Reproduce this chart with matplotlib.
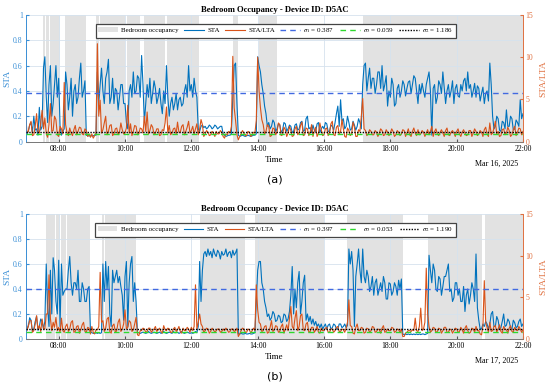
import numpy as np
import matplotlib.pyplot as plt
from matplotlib.patches import Patch
from matplotlib.lines import Line2D
from matplotlib.transforms import blended_transform_factory

plt.rcParams['font.family'] = ['Liberation Serif', 'DejaVu Serif']
plt.rcParams['mathtext.fontset'] = 'stix'

# samples every 2.5 minutes starting at 07:00 (hours), one row per hour
t_start = 7.0
step_h = 2.5 / 60

# ---- Mar 16 ----
sta_a = [
    0.12, 0.06, 0.08, 0.13, 0.15, 0.07, 0.20, 0.09, 0.10, 0.05, 0.27, 0.09, 0.12, 0.58, 0.67, 0.35, 0.15, 0.45, 0.60, 0.20, 0.30, 0.45, 0.60, 0.35,
    0.50, 0.12, 0.05, 0.08, 0.10, 0.55, 0.45, 0.25, 0.35, 0.50, 0.20, 0.40, 0.45, 0.30, 0.35, 0.50, 0.62, 0.35, 0.40, 0.48, 0.05, 0.045, 0.045, 0.045,
    0.045, 0.045, 0.05, 0.05, 0.55, 0.30, 0.45, 0.58, 0.40, 0.30, 0.50, 0.55, 0.65, 0.30, 0.35, 0.50, 0.30, 0.42, 0.40, 0.25, 0.35, 0.45, 0.45, 0.30,
    0.30, 0.15, 0.10, 0.40, 0.45, 0.35, 0.55, 0.38, 0.40, 0.52, 0.50, 0.35, 0.68, 0.45, 0.15, 0.30, 0.45, 0.35, 0.50, 0.30, 0.38, 0.48, 0.42, 0.30,
    0.35, 0.42, 0.30, 0.22, 0.40, 0.30, 0.60, 0.35, 0.20, 0.30, 0.35, 0.25, 0.30, 0.38, 0.25, 0.33, 0.35, 0.28, 0.30, 0.40, 0.45, 0.35, 0.60, 0.40,
    0.45, 0.35, 0.50, 0.40, 0.35, 0.10, 0.08, 0.12, 0.13, 0.11, 0.12, 0.10, 0.11, 0.13, 0.12, 0.10, 0.11, 0.13, 0.12, 0.10, 0.11, 0.12, 0.12, 0.06,
    0.05, 0.04, 0.045, 0.05, 0.05, 0.06, 0.35, 0.60, 0.62, 0.30, 0.05, 0.04, 0.045, 0.05, 0.045, 0.04, 0.045, 0.05, 0.045, 0.04, 0.045, 0.05, 0.05, 0.06,
    0.67, 0.60, 0.55, 0.45, 0.38, 0.28, 0.22, 0.12, 0.15, 0.10, 0.12, 0.17, 0.15, 0.08, 0.10, 0.14, 0.13, 0.07, 0.09, 0.15, 0.14, 0.08, 0.10, 0.13,
    0.12, 0.07, 0.08, 0.13, 0.14, 0.09, 0.10, 0.15, 0.16, 0.08, 0.09, 0.18, 0.20, 0.10, 0.11, 0.07, 0.13, 0.09, 0.08, 0.14, 0.15, 0.07, 0.10, 0.12,
    0.10, 0.15, 0.14, 0.08, 0.08, 0.13, 0.12, 0.09, 0.15, 0.22, 0.28, 0.12, 0.33, 0.16, 0.18, 0.10, 0.12, 0.20, 0.15, 0.09, 0.10, 0.16, 0.13, 0.09,
    0.12, 0.18, 0.15, 0.10, 0.45, 0.60, 0.62, 0.40, 0.50, 0.58, 0.42, 0.50, 0.50, 0.38, 0.45, 0.55, 0.55, 0.42, 0.60, 0.40, 0.45, 0.52, 0.28, 0.40,
    0.35, 0.50, 0.45, 0.28, 0.30, 0.42, 0.45, 0.35, 0.40, 0.48, 0.45, 0.36, 0.42, 0.47, 0.48, 0.38, 0.45, 0.52, 0.50, 0.40, 0.30, 0.45, 0.38, 0.46,
    0.40, 0.35, 0.45, 0.50, 0.55, 0.40, 0.05, 0.42, 0.45, 0.30, 0.35, 0.48, 0.45, 0.38, 0.55, 0.42, 0.30, 0.40, 0.45, 0.35, 0.40, 0.48, 0.30, 0.42,
    0.45, 0.36, 0.35, 0.45, 0.40, 0.48, 0.50, 0.40, 0.55, 0.42, 0.45, 0.35, 0.40, 0.46, 0.35, 0.44, 0.42, 0.32, 0.38, 0.43, 0.30, 0.38, 0.40, 0.32,
    0.62, 0.45, 0.20, 0.10, 0.12, 0.20, 0.18, 0.09, 0.08, 0.16, 0.15, 0.10, 0.25, 0.12, 0.12, 0.20, 0.18, 0.09, 0.10, 0.17, 0.15, 0.12, 0.33, 0.18,
    0.22,
]
ratio_a = [
    3.9, 1.0, 1.2, 2.0, 2.4, 0.7, 0.8, 1.8, 3.3, 1.1, 1.0, 2.2, 3.7, 1.5, 2.8, 0.9, 0.5, 2.0, 4.5, 1.2, 1.3, 3.0, 2.6, 0.8,
    0.6, 1.8, 1.5, 0.9, 7.0, 2.0, 1.1, 0.7, 1.6, 1.0, 0.7, 1.4, 1.9, 0.8, 1.2, 1.7, 1.6, 0.9, 0.8, 1.5, 1.3, 0.6, 0.9, 0.5,
    0.9, 0.4, 0.7, 1.0, 11.6, 3.0, 4.9, 1.0, 1.4, 2.2, 3.0, 0.8, 1.2, 1.9, 2.0, 0.7, 0.9, 1.5, 1.6, 0.8, 1.1, 2.2, 1.4, 0.9,
    1.0, 1.6, 4.3, 1.0, 2.1, 0.7, 1.2, 1.9, 1.8, 0.8, 0.9, 1.6, 1.5, 1.0, 3.0, 1.2, 3.5, 0.9, 1.3, 2.0, 1.7, 0.8, 1.0, 1.5,
    1.5, 0.7, 0.8, 1.4, 1.3, 2.2, 4.1, 1.0, 1.9, 0.8, 1.0, 1.5, 1.6, 0.9, 2.3, 1.1, 1.1, 1.8, 2.0, 0.8, 1.2, 1.7, 2.4, 1.0,
    1.3, 1.8, 0.9, 1.5, 2.1, 0.8, 1.5, 2.6, 2.0, 0.6, 0.9, 1.3, 1.1, 0.7, 0.8, 1.2, 1.0, 0.6, 1.2, 0.9, 0.9, 1.3, 1.1, 0.6,
    0.4, 0.9, 0.8, 1.2, 1.0, 1.8, 10.1, 4.0, 2.5, 0.8, 0.2, 0.6, 0.9, 1.3, 1.0, 0.7, 0.7, 1.2, 1.1, 0.6, 0.8, 1.1, 1.0, 2.5,
    10.0, 6.0, 4.0, 2.6, 2.0, 0.9, 1.2, 2.0, 1.8, 0.6, 0.7, 1.6, 1.5, 0.8, 1.1, 2.2, 2.0, 0.7, 0.8, 1.7, 1.4, 0.6, 1.0, 1.8,
    1.3, 0.6, 0.7, 1.5, 1.8, 0.8, 1.0, 1.9, 2.3, 0.7, 0.8, 1.6, 1.5, 0.7, 1.1, 2.0, 0.6, 1.2, 1.7, 0.6, 1.0, 2.2, 1.4, 0.7,
    0.8, 1.5, 1.6, 0.7, 1.1, 2.1, 2.4, 0.8, 0.7, 1.7, 1.9, 0.9, 1.2, 2.6, 1.5, 0.6, 0.5, 1.6, 1.3, 0.7, 0.9, 2.3, 1.7, 0.6,
    0.6, 1.4, 1.2, 3.0, 5.1, 1.5, 1.3, 0.7, 0.9, 1.4, 1.2, 0.8, 0.8, 1.3, 1.1, 0.6, 1.0, 1.5, 1.3, 0.7, 0.8, 1.4, 1.1, 0.7,
    1.0, 1.5, 1.2, 0.6, 0.8, 1.3, 1.1, 0.7, 0.9, 1.4, 1.3, 0.6, 1.0, 1.5, 0.8, 0.6, 1.2, 1.6, 1.0, 0.7, 1.4, 0.8, 0.9, 1.3,
    1.1, 0.6, 1.0, 1.4, 0.8, 1.2, 1.8, 0.6, 1.2, 1.5, 0.9, 0.7, 1.1, 1.4, 1.0, 0.6, 1.3, 1.6, 0.8, 0.7, 1.1, 1.3, 1.0, 0.6,
    1.2, 1.5, 0.9, 0.6, 1.1, 1.4, 1.0, 0.7, 0.8, 1.3, 1.3, 0.6, 1.0, 1.5, 1.2, 0.7, 0.9, 1.3, 1.1, 0.6, 1.4, 1.7, 0.9, 0.6,
    2.2, 0.8, 1.0, 1.6, 2.4, 0.9, 1.2, 0.6, 0.7, 1.4, 1.5, 0.8, 1.0, 1.7, 1.3, 0.6, 0.8, 1.4, 1.8, 0.7, 1.1, 1.6, 1.5, 0.8,
    1.2,
]
occ_a = [(7.52, 7.59), (7.62, 7.71), (7.74, 8.04), (8.19, 8.83), (9.13, 9.22),
         (9.25, 10.01), (10.07, 10.46), (10.58, 11.21), (11.27, 12.24),
         (13.26, 13.40), (14.03, 14.57), (17.17, 22.0)]
sig_a = [0.387, 0.059, 1.186]

# ---- Mar 17 ----
sta_b = [
    0.24, 0.08, 0.10, 0.17, 0.15, 0.06, 0.08, 0.14, 0.18, 0.07, 0.10, 0.16, 0.14, 0.08, 0.14, 0.60, 0.25, 0.10, 0.55, 0.20, 0.65, 0.55, 0.30, 0.20,
    0.63, 0.10, 0.60, 0.35, 0.38, 0.40, 0.40, 0.55, 0.66, 0.45, 0.35, 0.45, 0.45, 0.40, 0.55, 0.30, 0.30, 0.45, 0.40, 0.30, 0.30, 0.40, 0.42, 0.06,
    0.05, 0.045, 0.045, 0.05, 0.045, 0.05, 0.045, 0.05, 0.60, 0.30, 0.62, 0.40, 0.58, 0.20, 0.10, 0.55, 0.45, 0.50, 0.55, 0.45, 0.50, 0.42, 0.35, 0.15,
    0.50, 0.62, 0.10, 0.45, 0.60, 0.66, 0.30, 0.45, 0.30, 0.05, 0.05, 0.045, 0.05, 0.055, 0.05, 0.045, 0.05, 0.06, 0.05, 0.045, 0.05, 0.055, 0.05, 0.045,
    0.05, 0.055, 0.045, 0.05, 0.06, 0.05, 0.045, 0.05, 0.055, 0.05, 0.045, 0.06, 0.05, 0.05, 0.055, 0.045, 0.05, 0.06, 0.05, 0.045, 0.05, 0.055, 0.05, 0.045,
    0.05, 0.045, 0.05, 0.06, 0.05, 0.10, 0.62, 0.30, 0.55, 0.68, 0.70, 0.66, 0.72, 0.67, 0.70, 0.65, 0.72, 0.68, 0.66, 0.71, 0.69, 0.64, 0.70, 0.67,
    0.68, 0.72, 0.66, 0.69, 0.70, 0.65, 0.71, 0.67, 0.69, 0.72, 0.04, 0.04, 0.045, 0.04, 0.04, 0.045, 0.04, 0.04, 0.045, 0.04, 0.04, 0.045, 0.05, 0.30,
    0.55, 0.62, 0.62, 0.45, 0.40, 0.30, 0.25, 0.18, 0.20, 0.15, 0.17, 0.22, 0.20, 0.14, 0.15, 0.19, 0.18, 0.13, 0.14, 0.20, 0.19, 0.14, 0.16, 0.22,
    0.35, 0.58, 0.20, 0.40, 0.25, 0.45, 0.54, 0.20, 0.30, 0.45, 0.51, 0.15, 0.20, 0.14, 0.18, 0.12, 0.16, 0.11, 0.14, 0.10, 0.12, 0.09, 0.12, 0.08,
    0.10, 0.12, 0.08, 0.11, 0.12, 0.08, 0.09, 0.12, 0.11, 0.08, 0.08, 0.12, 0.12, 0.09, 0.10, 0.12, 0.09, 0.11, 0.72, 0.60, 0.70, 0.55, 0.10, 0.50,
    0.60, 0.72, 0.55, 0.45, 0.72, 0.50, 0.45, 0.55, 0.50, 0.38, 0.42, 0.50, 0.35, 0.45, 0.48, 0.35, 0.40, 0.45, 0.38, 0.50, 0.45, 0.32, 0.32, 0.45,
    0.44, 0.35, 0.38, 0.45, 0.42, 0.35, 0.47, 0.40, 0.48, 0.04, 0.035, 0.04, 0.035, 0.04, 0.035, 0.04, 0.035, 0.04, 0.035, 0.04, 0.035, 0.04, 0.035, 0.04,
    0.04, 0.035, 0.04, 0.045, 0.67, 0.55, 0.45, 0.60, 0.55, 0.40, 0.38, 0.50, 0.48, 0.35, 0.42, 0.50, 0.50, 0.55, 0.60, 0.38, 0.40, 0.30, 0.33, 0.45,
    0.45, 0.35, 0.40, 0.30, 0.30, 0.42, 0.22, 0.35, 0.40, 0.28, 0.35, 0.45, 0.40, 0.30, 0.68, 0.25, 0.15, 0.08, 0.08, 0.12, 0.10, 0.14, 0.12, 0.08,
    0.12, 0.20, 0.22, 0.10, 0.10, 0.18, 0.15, 0.08, 0.09, 0.14, 0.20, 0.10, 0.11, 0.16, 0.14, 0.09, 0.08, 0.15, 0.13, 0.09, 0.10, 0.14, 0.16, 0.10,
    0.12,
]
ratio_b = [
    3.1, 1.0, 1.5, 2.2, 2.2, 0.8, 1.0, 1.8, 2.8, 1.2, 1.6, 0.9, 2.4, 1.3, 1.2, 3.0, 3.0, 7.7, 2.5, 1.0, 2.0, 1.4, 2.6, 1.0,
    1.4, 0.8, 2.5, 1.0, 0.8, 1.5, 1.8, 0.9, 1.2, 2.0, 2.2, 0.8, 0.9, 1.5, 1.6, 0.7, 1.1, 1.7, 2.0, 0.9, 0.8, 1.4, 1.3, 0.6,
    1.5, 0.8, 0.6, 1.1, 1.1, 1.5, 8.0, 2.0, 2.2, 0.9, 1.3, 2.4, 2.6, 0.9, 0.7, 1.6, 1.8, 0.8, 1.0, 2.0, 2.4, 0.9, 1.2, 1.8,
    3.5, 1.2, 1.4, 2.2, 2.0, 0.9, 1.1, 1.8, 2.6, 0.5, 0.4, 1.0, 1.0, 1.3, 1.2, 0.8, 0.9, 1.3, 1.3, 0.8, 1.0, 1.2, 1.5, 0.9,
    1.1, 1.3, 0.9, 0.7, 1.6, 1.1, 1.0, 1.3, 1.2, 0.8, 0.8, 1.2, 1.4, 0.9, 1.1, 1.5, 0.9, 0.7, 1.3, 1.0, 1.0, 1.4, 1.2, 0.8,
    1.4, 1.0, 1.5, 6.5, 1.2, 2.0, 3.0, 1.8, 1.5, 0.8, 1.0, 1.3, 1.2, 0.7, 0.9, 1.3, 1.1, 0.8, 1.0, 1.2, 1.2, 0.8, 0.9, 1.2,
    1.0, 1.3, 1.1, 0.8, 0.9, 1.2, 1.2, 0.9, 1.0, 1.3, 0.3, 0.6, 1.0, 1.3, 1.2, 0.8, 0.8, 1.2, 1.1, 0.7, 1.0, 1.3, 1.0, 6.5,
    3.5, 2.0, 1.8, 0.9, 1.0, 1.5, 1.6, 0.7, 0.8, 1.4, 2.2, 0.9, 1.1, 1.6, 1.5, 0.8, 0.9, 1.5, 1.8, 0.7, 1.2, 1.7, 1.0, 2.5,
    3.9, 1.5, 1.2, 2.5, 3.4, 1.0, 1.5, 2.8, 3.0, 1.1, 1.0, 1.8, 2.0, 0.8, 0.9, 1.4, 1.4, 0.8, 1.1, 1.5, 0.8, 0.7, 1.3, 1.0,
    1.0, 1.3, 1.4, 0.8, 0.8, 1.2, 1.2, 0.8, 1.0, 1.4, 1.5, 0.9, 0.9, 1.2, 1.1, 0.8, 1.3, 2.0, 4.7, 1.6, 1.5, 0.7, 0.6, 1.4,
    1.8, 1.0, 1.0, 1.4, 1.3, 0.7, 0.8, 1.3, 1.2, 0.8, 1.0, 1.5, 1.4, 0.8, 0.9, 1.2, 1.1, 0.7, 1.3, 1.6, 0.8, 0.9, 1.2, 1.0,
    1.0, 1.4, 1.3, 0.8, 0.9, 1.2, 1.1, 0.8, 1.2, 0.3, 0.3, 0.7, 0.8, 1.0, 1.0, 0.9, 1.1, 1.0, 2.5, 1.0, 0.9, 1.5, 3.7, 1.0,
    1.2, 2.0, 8.5, 3.0, 1.5, 0.8, 1.0, 1.4, 1.3, 0.8, 0.9, 1.3, 1.2, 0.7, 1.0, 1.4, 1.4, 0.8, 0.8, 1.2, 1.1, 0.7, 1.0, 1.3,
    1.2, 0.8, 0.9, 1.4, 1.1, 0.7, 1.3, 1.6, 1.0, 0.7, 0.8, 1.3, 1.2, 0.8, 1.5, 1.0, 1.0, 0.6, 0.5, 1.5, 7.0, 2.0, 1.4, 0.8,
    2.0, 0.9, 1.0, 1.5, 1.6, 0.8, 1.2, 1.7, 0.9, 0.7, 1.5, 1.2, 1.1, 0.7, 1.3, 1.6, 0.9, 0.8, 1.4, 1.1, 1.0, 1.5, 1.2, 0.8,
    1.1,
]
occ_b = [(7.62, 7.88), (7.91, 8.03), (8.06, 8.21), (8.26, 8.94), (9.30, 9.36),
         (9.39, 10.34), (12.25, 13.61), (13.91, 16.0), (16.68, 18.37),
         (19.15, 20.76), (20.84, 22.0)]
sig_b = [0.397, 0.053, 1.190]

xticks = [8, 10, 12, 14, 16, 18, 20, 22]
xticklabels = ['08:00', '10:00', '12:00', '14:00', '16:00', '18:00', '20:00', '22:00']

blue = '#0072BD'
orange = '#D95319'
blue_lbl = '#3a8fd6'
orange_lbl = '#e0703f'
shade = '#e2e2e2'


def panel(rect, sta, ratio, occ, sig, date_txt, letter, letter_y):
    ax = fig.add_axes(rect)
    ax2 = ax.twinx()
    t = t_start + np.arange(len(sta)) * step_h
    t2 = t_start + np.arange(len(ratio)) * step_h

    for s, e in occ:
        ax.axvspan(s, e, color=shade, lw=0, zorder=0.5)
    ax.plot(t, sta, color=blue, lw=0.8, zorder=2)
    ax2.plot(t2, ratio, color=orange, lw=0.8, zorder=2)

    # sigma lines drawn on top of both series
    tr = blended_transform_factory(ax2.transAxes, ax.transData)
    ax2.plot([0, 1], [sig[0], sig[0]], transform=tr, color='#4169e1', lw=1.0,
             ls=(0, (4, 3)), zorder=3)
    ax2.plot([0, 1], [sig[1], sig[1]], transform=tr, color='#2ed82e', lw=1.0,
             ls=(0, (4, 3)), zorder=3)
    ax2.axhline(sig[2], color='black', lw=1.0, ls=(0, (1, 1)), zorder=3)

    ax.set_xlim(7, 22)
    ax.set_ylim(0, 1)
    ax2.set_ylim(0, 15)
    ax.set_xticks(xticks)
    ax.set_xticklabels(xticklabels)
    ax.set_yticks([0, 0.2, 0.4, 0.6, 0.8, 1])
    ax.set_yticklabels(['0', '0.2', '0.4', '0.6', '0.8', '1'])
    ax2.set_yticks([0, 5, 10, 15])
    ax.grid(True, color='#d6e2ee', lw=0.6)

    ax.tick_params(axis='y', direction='in', length=2.5, labelsize=5.6, colors=blue_lbl, pad=2)
    ax.tick_params(axis='x', direction='in', length=2.5, labelsize=5.6, color='#555555', pad=2.5)
    ax2.tick_params(axis='y', direction='in', length=2.5, labelsize=5.6, colors=orange_lbl, pad=2)
    for a in (ax, ax2):
        a.spines['top'].set_visible(False)
        a.spines['left'].set_color(blue_lbl)
        a.spines['right'].set_color(orange_lbl)
        a.spines['bottom'].set_color('#777777')
        for sp in a.spines.values():
            sp.set_linewidth(0.6)

    ax.set_ylabel('STA', fontsize=6.8, color=blue_lbl, labelpad=1.5)
    ax2.set_ylabel('STA/LTA', fontsize=6.8, color=orange_lbl, labelpad=4)
    ax.set_xlabel('Time', fontsize=6.5, labelpad=2)
    ax.set_title('Bedroom Occupancy - Device ID: D5AC', fontsize=6.2,
                 fontweight='bold', pad=2.5)
    ax.text(0.99, -0.145, date_txt, transform=ax.transAxes, ha='right', va='top',
            fontsize=5.8)

    handles = [
        Patch(facecolor=shade, edgecolor='none'),
        Line2D([], [], color=blue, lw=0.8),
        Line2D([], [], color=orange, lw=0.8),
        Line2D([], [], color='#4169e1', lw=1.0, ls=(0, (4, 3))),
        Line2D([], [], color='#2ed82e', lw=1.0, ls=(0, (4, 3))),
        Line2D([], [], color='black', lw=1.0, ls=(0, (1, 1))),
    ]
    labels = ['Bedroom occupancy', 'STA', 'STA/LTA',
              r'$\sigma_1$ = %.3f' % sig[0], r'$\sigma_3$ = %.3f' % sig[1],
              r'$\sigma_2$ = %.3f' % sig[2]]
    leg = ax2.legend(handles, labels, loc='upper center', bbox_to_anchor=(0.503, 0.957),
                     ncol=6, fontsize=5.0, frameon=True, fancybox=False,
                     handlelength=2.8, handletextpad=0.5, columnspacing=0.8,
                     borderpad=0.35, framealpha=1)
    leg.get_frame().set_edgecolor('#444444')
    leg.get_frame().set_linewidth(0.9)

    fig.text(0.5, letter_y, letter, ha='center', va='center', fontsize=8,
             family='DejaVu Sans')
    return ax, ax2


fig = plt.figure(figsize=(5.5, 3.86), dpi=100)
panel([0.0464, 0.6334, 0.9045, 0.3277], sta_a, ratio_a, occ_a, sig_a,
      'Mar 16, 2025', '(a)', 0.534)
panel([0.0464, 0.1218, 0.9045, 0.3238], sta_b, ratio_b, occ_b, sig_b,
      'Mar 17, 2025', '(b)', 0.025)
fig.savefig('out.png', dpi=100)
